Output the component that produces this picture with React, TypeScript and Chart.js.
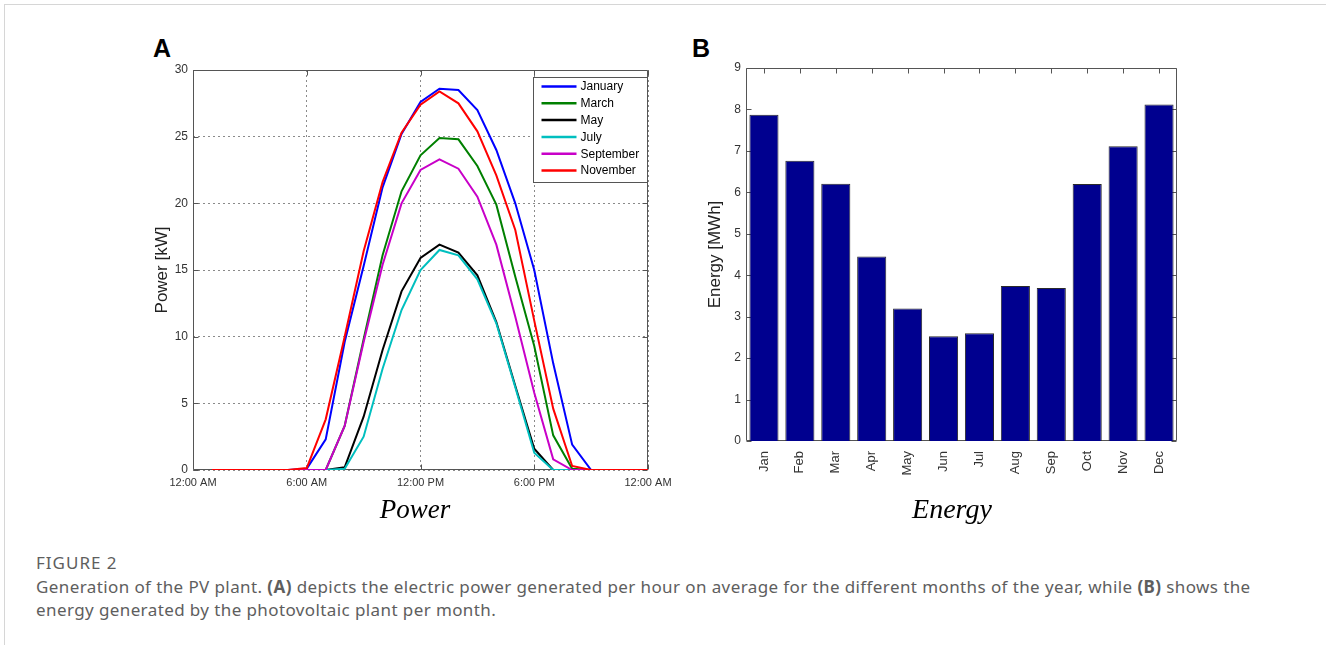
import React, { useEffect, useRef } from "react";
import { Chart, registerables } from "chart.js";

Chart.register(...registerables);

// ---------- Panel A data (hourly average power, kW) ----------
const HOURS = [1, 2, 3, 4, 5, 6, 7, 8, 9, 10, 11, 12, 13, 14, 15, 16, 17, 18, 19, 20, 21, 22, 23, 24];
const HOUR_TICKS = [0, 6, 12, 18, 24];
const HOUR_TICK_LABELS = ["12:00 AM", "6:00 AM", "12:00 PM", "6:00 PM", "12:00 AM"];

const JANUARY = [0, 0, 0, 0, 0, 0.1, 2.3, 9.6, 15.3, 21.2, 25.2, 27.6, 28.6, 28.5, 27.0, 24.0, 20.0, 15.0, 8.0, 1.9, 0, 0, 0, 0];
const MARCH = [0, 0, 0, 0, 0, 0, 0, 3.3, 9.8, 16.1, 20.9, 23.6, 24.9, 24.8, 22.8, 19.9, 14.5, 9.3, 2.6, 0.1, 0, 0, 0, 0];
const MAY = [0, 0, 0, 0, 0, 0, 0, 0.2, 4.0, 9.0, 13.4, 15.9, 16.9, 16.3, 14.6, 11.1, 6.3, 1.6, 0, 0, 0, 0, 0, 0];
const JULY = [0, 0, 0, 0, 0, 0, 0, 0.1, 2.5, 7.6, 12.0, 15.0, 16.5, 16.1, 14.3, 11.0, 6.2, 1.3, 0, 0, 0, 0, 0, 0];
const SEPTEMBER = [0, 0, 0, 0, 0, 0, 0, 3.3, 9.6, 15.4, 20.0, 22.5, 23.3, 22.6, 20.5, 16.9, 11.5, 5.8, 0.8, 0, 0, 0, 0, 0];
const NOVEMBER = [0, 0, 0, 0, 0, 0.15, 3.8, 10.0, 16.4, 21.6, 25.3, 27.4, 28.4, 27.5, 25.4, 22.1, 18.0, 11.2, 4.6, 0.3, 0, 0, 0, 0];

const SERIES_NAMES = ["January", "March", "May", "July", "September", "November"];
const SERIES_VALUES = [JANUARY, MARCH, MAY, JULY, SEPTEMBER, NOVEMBER];
const SERIES_COLORS = ["#0000FF", "#008000", "#000000", "#00BFBF", "#C800C8", "#FF0000"];

// ---------- Panel B data (monthly energy, MWh) ----------
const MONTHS = ["Jan", "Feb", "Mar", "Apr", "May", "Jun", "Jul", "Aug", "Sep", "Oct", "Nov", "Dec"];
const ENERGY = [7.87, 6.76, 6.21, 4.45, 3.2, 2.53, 2.6, 3.74, 3.69, 6.2, 7.11, 8.12];

const SANS = "'Liberation Sans', Arial, sans-serif";

// MATLAB-like axes box with inward ticks (drawn beneath the data)
const boxPlugin = {
  id: "matlabBox",
  beforeDatasetsDraw(chart: any, _args: any, opts: any) {
    const { ctx, chartArea } = chart;
    const l = Math.round(chartArea.left) + 0.5;
    const r = Math.round(chartArea.right) - 0.5;
    const t = Math.round(chartArea.top) + 0.5;
    const b = Math.round(chartArea.bottom) - 0.5;
    const L = opts.tickLen || 5;
    ctx.save();
    ctx.strokeStyle = opts.color || "#555";
    ctx.lineWidth = 1;
    ctx.setLineDash([]);
    ctx.beginPath();
    ctx.rect(l, t, r - l, b - t);
    const xs = chart.scales.x;
    const ys = chart.scales.y;
    xs.ticks.forEach((_t: any, i: number) => {
      const px = Math.round(xs.getPixelForTick(i)) + 0.5;
      ctx.moveTo(px, b);
      ctx.lineTo(px, b - L);
      ctx.moveTo(px, t);
      ctx.lineTo(px, t + L);
    });
    ys.ticks.forEach((_t: any, i: number) => {
      const py = Math.round(ys.getPixelForTick(i)) + 0.5;
      ctx.moveTo(l, py);
      ctx.lineTo(l + L, py);
      ctx.moveTo(r, py);
      ctx.lineTo(r - L, py);
    });
    ctx.stroke();
    ctx.restore();
  },
};

// Legend drawn inside the plot area (top-right), as in the original
const insideLegendPlugin = {
  id: "insideLegend",
  afterDraw(chart: any, _args: any, opts: any) {
    if (!opts || !opts.enabled) return;
    const { ctx, chartArea } = chart;
    const w = 114;
    const h = 105;
    const x0 = Math.round(chartArea.right) - 1 - w + 0.5;
    const y0 = Math.round(chartArea.top) + 7 + 0.5;
    ctx.save();
    ctx.fillStyle = "#ffffff";
    ctx.fillRect(x0, y0, w, h);
    ctx.strokeStyle = "#555";
    ctx.lineWidth = 1;
    ctx.strokeRect(x0, y0, w, h);
    ctx.font = "12px " + SANS;
    ctx.textBaseline = "middle";
    ctx.textAlign = "left";
    chart.data.datasets.forEach((ds: any, i: number) => {
      const y = y0 + 9 + i * 16.8;
      ctx.strokeStyle = ds.borderColor;
      ctx.lineWidth = 2.5;
      ctx.beginPath();
      ctx.moveTo(x0 + 8, y);
      ctx.lineTo(x0 + 43, y);
      ctx.stroke();
      ctx.fillStyle = "#000";
      ctx.fillText(ds.label, x0 + 47, y + 0.5);
    });
    ctx.restore();
  },
};

function PowerChart() {
  const ref = useRef<HTMLCanvasElement | null>(null);
  useEffect(() => {
    if (!ref.current) return;
    const datasets = SERIES_NAMES.map((name, i) => ({
      label: name,
      data: HOURS.map((h, k) => ({ x: h, y: SERIES_VALUES[i][k] })),
      borderColor: SERIES_COLORS[i],
      backgroundColor: SERIES_COLORS[i],
      borderWidth: 2,
      pointRadius: 0,
      tension: 0,
      fill: false,
      order: SERIES_NAMES.length - i,
    }));
    const chart = new Chart(ref.current, {
      type: "line",
      data: { datasets },
      plugins: [boxPlugin, insideLegendPlugin],
      options: {
        responsive: false,
        animation: false,
        layout: { padding: { top: 15, right: 35, left: 0, bottom: 0 } },
        plugins: {
          legend: { display: false },
          tooltip: { enabled: false },
          matlabBox: { color: "#555", tickLen: 5 },
          insideLegend: { enabled: true },
        } as any,
        scales: {
          x: {
            type: "linear",
            min: 0,
            max: 24,
            afterBuildTicks: (scale: any) => {
              scale.ticks = HOUR_TICKS.map((v) => ({ value: v }));
            },
            afterFit: (scale: any) => {
              scale.height = 35;
            },
            ticks: {
              autoSkip: false,
              maxRotation: 0,
              minRotation: 0,
              padding: 6,
              color: "#333",
              font: { family: SANS, size: 11 },
              callback: (v: any) => HOUR_TICK_LABELS[HOUR_TICKS.indexOf(Number(v))],
            },
            grid: { color: "#8a8a8a", lineWidth: 1, drawTicks: false },
            border: { display: false, dash: [2, 3] },
          },
          y: {
            type: "linear",
            min: 0,
            max: 30,
            afterFit: (scale: any) => {
              scale.width = 50;
            },
            ticks: {
              stepSize: 5,
              padding: 5,
              color: "#333",
              font: { family: SANS, size: 12 },
            },
            grid: { color: "#8a8a8a", lineWidth: 1, drawTicks: false },
            border: { display: false, dash: [2, 3] },
            title: {
              display: true,
              text: "Power [kW]",
              color: "#222",
              font: { family: SANS, size: 17 },
              padding: { top: 9, bottom: 0 },
            },
          },
        },
      } as any,
    });
    return () => chart.destroy();
  }, []);
  return (
    <canvas
      ref={ref}
      width={540}
      height={450}
      style={{ position: "absolute", left: 143, top: 55, width: 540, height: 450 }}
    />
  );
}

function EnergyChart() {
  const ref = useRef<HTMLCanvasElement | null>(null);
  useEffect(() => {
    if (!ref.current) return;
    const chart = new Chart(ref.current, {
      type: "bar",
      data: {
        labels: MONTHS,
        datasets: [
          {
            label: "Energy",
            data: ENERGY,
            backgroundColor: "#00008F",
            borderColor: "#2a2a2a",
            borderWidth: 1,
            barPercentage: 0.81,
            categoryPercentage: 1.0,
          },
        ],
      },
      plugins: [boxPlugin],
      options: {
        responsive: false,
        animation: false,
        layout: { padding: { top: 18, right: 10, left: 0, bottom: 0 } },
        plugins: {
          legend: { display: false },
          tooltip: { enabled: false },
          matlabBox: { color: "#555", tickLen: 5 },
        } as any,
        scales: {
          x: {
            type: "category",
            offset: true,
            afterFit: (scale: any) => {
              scale.height = 64;
            },
            ticks: {
              autoSkip: false,
              minRotation: 90,
              maxRotation: 90,
              padding: 10,
              color: "#333",
              font: { family: SANS, size: 13 },
            },
            grid: { display: false, drawTicks: false },
            border: { display: false },
          },
          y: {
            type: "linear",
            min: 0,
            max: 9,
            afterFit: (scale: any) => {
              scale.width = 56;
            },
            ticks: {
              stepSize: 1,
              padding: 5,
              color: "#333",
              font: { family: SANS, size: 12 },
            },
            grid: { display: false, drawTicks: false },
            border: { display: false },
            title: {
              display: true,
              text: "Energy [MWh]",
              color: "#222",
              font: { family: SANS, size: 17 },
              padding: { top: 15, bottom: 0 },
            },
          },
        },
      } as any,
    });
    return () => chart.destroy();
  }, []);
  return (
    <canvas
      ref={ref}
      width={497}
      height={455}
      style={{ position: "absolute", left: 690, top: 50, width: 497, height: 455 }}
    />
  );
}

const textAbs = (extra: React.CSSProperties): React.CSSProperties => ({
  position: "absolute",
  margin: 0,
  whiteSpace: "nowrap",
  ...extra,
});

export default function App() {
  const caption = "'Noto Sans', 'Open Sans', sans-serif";
  return (
    <div
      style={{
        position: "fixed",
        left: 0,
        top: 0,
        width: 1326,
        height: 645,
        background: "#ffffff",
        overflow: "hidden",
      }}
    >
      <div
        style={{
          position: "absolute",
          left: 4,
          top: 4,
          width: 1330,
          height: 660,
          borderLeft: "1px solid #d6d6d6",
          borderTop: "1px solid #d6d6d6",
        }}
      />
      <div style={textAbs({ left: 153, top: 36, fontFamily: SANS, fontWeight: "bold", fontSize: 25, lineHeight: "25px", color: "#000" })}>A</div>
      <div style={textAbs({ left: 692, top: 36, fontFamily: SANS, fontWeight: "bold", fontSize: 25, lineHeight: "25px", color: "#000" })}>B</div>
      <PowerChart />
      <EnergyChart />
      <div
        style={textAbs({
          left: 315,
          width: 200,
          top: 496,
          textAlign: "center",
          fontFamily: "'Liberation Serif', 'Times New Roman', serif",
          fontStyle: "italic",
          fontSize: 27,
          lineHeight: "27px",
          color: "#000",
        })}
      >
        Power
      </div>
      <div
        style={textAbs({
          left: 852,
          width: 200,
          top: 495,
          textAlign: "center",
          fontFamily: "'Liberation Serif', 'Times New Roman', serif",
          fontStyle: "italic",
          fontSize: 28,
          lineHeight: "28px",
          color: "#000",
        })}
      >
        Energy
      </div>
      <div
        style={textAbs({
          left: 36,
          top: 553,
          fontFamily: caption,
          fontSize: 17,
          lineHeight: "20px",
          letterSpacing: "1px",
          color: "#5e5e5e",
        })}
      >
        FIGURE 2
      </div>
      <div
        style={textAbs({
          left: 36,
          top: 576,
          fontFamily: caption,
          fontSize: 17,
          lineHeight: "22px",
          letterSpacing: "0.4px",
          color: "#5e5e5e",
        })}
      >
        Generation of the PV plant. <b>(A)</b> depicts the electric power generated per hour on average for the different months of the year, while <b>(B)</b> shows the
      </div>
      <div
        style={textAbs({
          left: 36,
          top: 599,
          fontFamily: caption,
          fontSize: 17,
          lineHeight: "22px",
          letterSpacing: "0.4px",
          color: "#5e5e5e",
        })}
      >
        energy generated by the photovoltaic plant per month.
      </div>
    </div>
  );
}
